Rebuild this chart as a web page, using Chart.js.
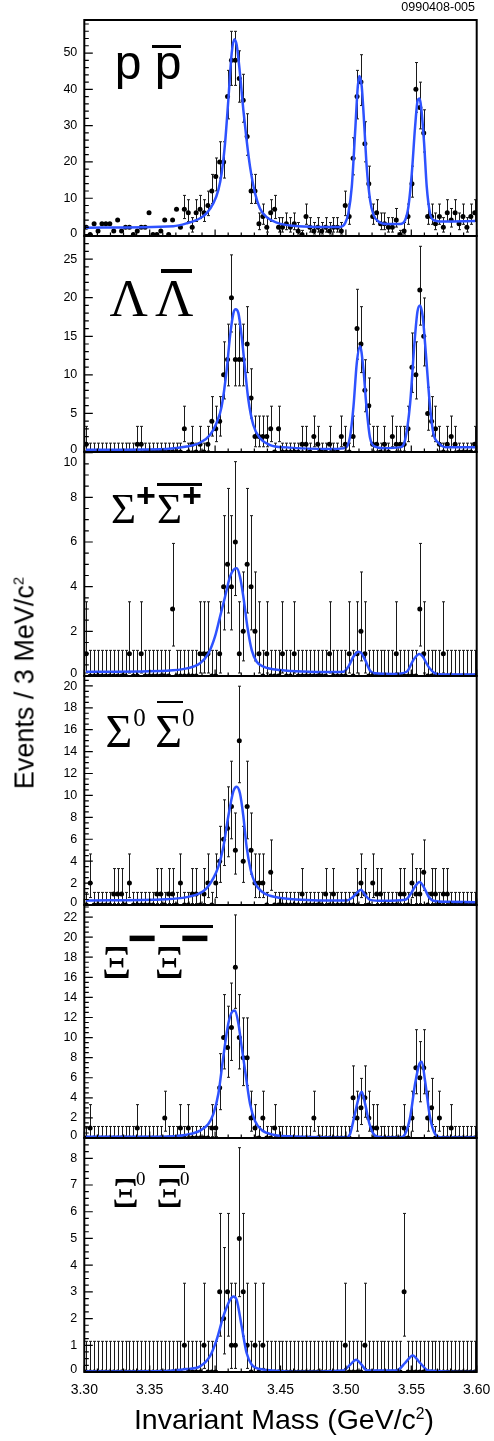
<!DOCTYPE html>
<html>
<head>
<meta charset="utf-8">
<script src="https://cdn.jsdelivr.net/npm/chart.js@4.4.1/dist/chart.umd.min.js"></script>
<style>
html,body{margin:0;padding:0;background:#fff;}
#page{position:relative;width:494px;height:1441px;overflow:hidden;color:#000;}
#page canvas{position:absolute;left:0;z-index:1;}
.lbl{position:absolute;white-space:nowrap;line-height:1;z-index:2;}
.sans{font-family:"Liberation Sans",Arial,Helvetica,sans-serif;}
.serif{font-family:"Liberation Serif","Times New Roman",Times,serif;}
.up{position:relative;line-height:0;}
.sup{font-size:0.55em;position:relative;top:-0.65em;line-height:0;}
.bar{position:absolute;background:#000;z-index:2;}
</style>
</head>
<body>
<div id="page">
  <div class="lbl sans" style="right:19px;top:1px;font-size:12.5px;">0990408-005</div>
  <div class="lbl sans" style="left:25px;top:683px;font-size:27px;transform:translate(-50%,-50%) rotate(-90deg);">Events / 3 MeV/c<span class="sup">2</span></div>
  <div class="lbl sans" style="left:284px;top:1405px;font-size:28.5px;transform:translateX(-50%);">Invariant Mass (GeV/c<span class="sup">2</span>)</div>

  <div class="lbl sans" style="left:114.8px;top:39.4px;font-size:48px;">p p</div>
  <div class="bar" style="left:152px;top:45px;width:29px;height:3px;"></div>

  <div class="lbl serif" style="left:109.5px;top:272.3px;font-size:53px;word-spacing:-2px;">Λ Λ</div>
  <div class="bar" style="left:161px;top:269px;width:31px;height:4px;"></div>

  <div class="lbl serif" style="left:111px;top:487.3px;font-size:43px;">Σ<span class="sans up" style="font-weight:bold;font-size:34px;top:-16.4px;">+</span><span style="margin-left:1px;">Σ</span><span class="sans up" style="font-weight:bold;font-size:34px;top:-16.4px;">+</span></div>
  <div class="bar" style="left:156.7px;top:483.3px;width:45px;height:2.5px;"></div>

  <div class="lbl serif" style="left:105.5px;top:708.8px;font-size:46px;word-spacing:-2px;">Σ<span class="up" style="font-size:25px;top:-20.6px;margin-left:1px;">0</span> Σ<span class="up" style="font-size:25px;top:-20.6px;">0</span></div>
  <div class="bar" style="left:156.7px;top:700.7px;width:26px;height:2.5px;"></div>

  <div class="lbl serif" style="left:101.8px;top:939.5px;font-size:46px;">Ξ<span class="sans up" style="font-weight:bold;font-size:50px;top:-23px;margin-left:-4px;">−</span><span style="margin-left:-2px;">Ξ</span><span class="sans up" style="font-weight:bold;font-size:50px;top:-23px;margin-left:-4px;">−</span></div>
  <div class="bar" style="left:160px;top:925px;width:52.7px;height:2.7px;"></div>

  <div class="lbl serif" style="left:112px;top:1171.8px;font-size:42px;">Ξ<span class="up" style="font-size:19px;top:-22px;margin-left:-3px;">0</span> Ξ<span class="up" style="font-size:19px;top:-22px;margin-left:-3px;">0</span></div>
  <div class="bar" style="left:159px;top:1165px;width:26px;height:2.5px;"></div>
</div>

<script>
// ---------------- DATA ----------------
// Bin centres (GeV/c^2), 3 MeV bins from 3.30 to 3.60
const binCenters = [
3.3015,3.3045,3.3075,3.3105,3.3135,3.3165,3.3195,3.3225,3.3255,3.3285,
3.3315,3.3345,3.3375,3.3405,3.3435,3.3465,3.3495,3.3525,3.3555,3.3585,
3.3615,3.3645,3.3675,3.3705,3.3735,3.3765,3.3795,3.3825,3.3855,3.3885,
3.3915,3.3945,3.3975,3.4005,3.4035,3.4065,3.4095,3.4125,3.4155,3.4185,
3.4215,3.4245,3.4275,3.4305,3.4335,3.4365,3.4395,3.4425,3.4455,3.4485,
3.4515,3.4545,3.4575,3.4605,3.4635,3.4665,3.4695,3.4725,3.4755,3.4785,
3.4815,3.4845,3.4875,3.4905,3.4935,3.4965,3.4995,3.5025,3.5055,3.5085,
3.5115,3.5145,3.5175,3.5205,3.5235,3.5265,3.5295,3.5325,3.5355,3.5385,
3.5415,3.5445,3.5475,3.5505,3.5535,3.5565,3.5595,3.5625,3.5655,3.5685,
3.5715,3.5745,3.5775,3.5805,3.5835,3.5865,3.5895,3.5925,3.5955,3.5985];

// Events per bin, p pbar
const ppCounts = [
2,0,3,1,3,3,3,1,4,1, 2,2,0,1,2,2,6,0,0,1, 4,0,4,7,2,7,6,2,6,7,
6,8,12,16,20,20,38,48,48,43, 37,27,12,12,3,5,2,6,7,2, 2,3,2,3,1,0,5,2,1,2,
1,2,1,2,2,1,8,5,21,38, 42,25,14,5,6,3,3,2,2,4, 0,1,5,14,40,35,28,5,5,3,
5,2,6,4,6,3,5,2,5,6];
// Lambda Lambdabar
const llCounts = [
1,0,0,0,0,0,0,0,0,0, 0,0,0,1,1,0,0,0,0,0, 0,0,0,0,0,3,0,1,0,1,
0,1,4,3,4,10,12,20,12,12, 12,14,7,2,2,2,2,3,0,3, 0,0,0,0,0,1,1,0,2,1,
0,0,1,0,0,2,1,0,2,16, 14,8,6,1,1,0,1,0,2,1, 1,1,3,11,10,21,15,5,4,3,
1,0,1,2,1,0,0,0,0,1];
// Sigma+ Sigma+bar
const spCounts = [
1,0,0,0,0,0,0,0,0,0, 0,1,0,0,1,0,0,0,0,0, 0,0,3,0,0,0,0,0,0,1,
1,1,0,0,1,4,5,4,6,1, 2,5,4,2,1,0,1,0,0,0, 1,0,0,1,0,0,0,0,0,0,
0,0,1,0,0,0,0,1,0,1, 2,1,0,0,0,0,0,0,0,1, 0,0,0,0,0,3,1,0,0,0,
0,1,0,0,0,0,0,0,0,0];
// Sigma0 Sigma0bar
const s0Counts = [
0,2,0,0,0,0,0,1,1,1, 0,2,0,0,0,0,0,0,1,1, 0,1,1,0,2,0,0,1,1,0,
1,2,0,2,4,6,7,9,5,15, 4,9,5,2,2,2,0,3,0,0, 0,0,0,0,0,1,0,0,0,0,
0,1,0,1,0,0,0,0,0,1, 2,1,0,2,1,1,0,0,0,0, 1,1,0,2,1,1,3,0,1,1,
0,1,1,0,0,0,0,0,0,0];
// Xi- Xi-bar
const xmCounts = [
0,1,0,0,0,0,0,0,0,0, 0,0,0,1,0,0,0,0,0,0, 2,0,0,0,1,0,1,0,0,0,
0,0,1,1,5,10,9,11,17,10, 8,8,2,1,0,2,0,0,1,0, 0,0,0,0,0,0,0,0,2,0,
0,0,0,0,0,0,0,0,4,2, 3,4,2,1,1,0,0,0,0,0, 0,1,0,2,7,6,7,2,3,0,
2,0,0,1,0,0,0,0,0,0];
// Xi0 Xi0bar
const x0Counts = [
0,0,0,0,0,0,0,0,0,0, 0,0,0,0,0,0,0,0,0,0, 0,0,0,0,0,1,0,0,0,0,
1,0,0,0,3,2,3,1,1,5, 3,1,0,1,0,1,0,0,0,0, 0,0,0,0,0,0,0,0,0,0,
0,0,0,0,0,0,1,0,0,0, 0,1,0,0,0,0,0,0,0,0, 0,3,0,0,0,0,0,0,0,0,
0,0,0,0,0,0,0,0,0,0];

// Fit curves
const ppCurveX = [3.3013,3.3681,3.3783,3.3885,3.3936,3.3987,3.4025,3.4050,3.4076,3.4101,3.4127,3.4147,3.4165,3.4190,3.4216,3.4241,3.4267,3.4305,3.4343,3.4394,3.4471,3.4598,3.4777,3.4955,3.4994,3.5019,3.5045,3.5070,3.5091,3.5103,3.5121,3.5141,3.5159,3.5185,3.5211,3.5249,3.5312,3.5414,3.5453,3.5478,3.5504,3.5529,3.5549,3.5562,3.5580,3.5598,3.5618,3.5643,3.5669,3.5746,3.5988];
const ppCurveY = [1.9,2.3,3.1,4.5,5.9,8.6,12.3,16.9,25.1,37,50,53.8,52.2,44.4,34.3,26,18.7,11.4,7.2,4.8,3.3,2.4,2.1,2.1,3.1,5.9,13.2,27.9,40.8,43.7,40.8,29.7,18.7,9.5,5.4,3.6,2.9,2.9,4,7.7,16.9,29.7,37,37.5,33.4,25.1,13.2,5.9,4,3.6,3.7];

const llCurveX = [3.3013,3.3630,3.3783,3.3885,3.3961,3.4012,3.4050,3.4089,3.4114,3.4140,3.4157,3.4178,3.4203,3.4229,3.4254,3.4292,3.4343,3.4420,3.4547,3.4904,3.4994,3.5032,3.5058,3.5083,3.5108,3.5134,3.5159,3.5185,3.5223,3.5287,3.5414,3.5453,3.5491,3.5524,3.5547,3.5567,3.5587,3.5613,3.5643,3.5669,3.5707,3.5771,3.5988];
const llCurveY = [0.3,0.4,0.7,1.2,2.2,3.8,5.9,10.7,15,18,18.5,18,15,10.7,6.8,3.5,1.8,0.9,0.6,0.4,0.5,2,5.9,11.5,13.7,10.7,5.5,1.8,0.7,0.5,0.6,1.6,6.3,14.1,18.2,19,17.6,12.4,5.9,2.4,1.2,0.6,0.6];

const spCurveX = [3.3013,3.3630,3.3783,3.3885,3.3948,3.3999,3.4038,3.4076,3.4114,3.4140,3.4165,3.4190,3.4216,3.4247,3.4280,3.4318,3.4369,3.4496,3.4904,3.4981,3.5019,3.5058,3.5096,3.5116,3.5147,3.5185,3.5223,3.5363,3.5465,3.5516,3.5562,3.5587,3.5631,3.5682,3.5746,3.5988];
const spCurveY = [0.19,0.24,0.34,0.57,1.0,1.76,2.66,3.55,4.45,4.75,4.82,4.45,3.55,2.2,1.16,0.64,0.42,0.27,0.18,0.19,0.42,0.87,1.09,1.04,0.72,0.24,0.12,0.09,0.19,0.72,0.99,0.87,0.42,0.12,0.07,0.07];

const s0CurveX = [3.3013,3.3630,3.3783,3.3885,3.3936,3.3987,3.4025,3.4063,3.4101,3.4140,3.4165,3.4190,3.4216,3.4241,3.4272,3.4305,3.4356,3.4420,3.4547,3.4904,3.5006,3.5045,3.5083,3.5113,3.5147,3.5185,3.5287,3.5453,3.5491,3.5529,3.5562,3.5593,3.5631,3.5669,3.5771,3.5988];
const s0CurveY = [0.41,0.53,0.72,1.08,1.54,2.45,3.5,5.3,8.1,10.4,10.8,10.2,8.1,5.3,3.2,2.0,1.23,0.84,0.57,0.41,0.41,0.63,1.08,1.39,0.93,0.47,0.38,0.47,0.93,1.69,2.09,1.69,0.78,0.38,0.29,0.26];

const xmCurveX = [3.3013,3.3579,3.3783,3.3885,3.3948,3.3987,3.4025,3.4063,3.4101,3.4132,3.4152,3.4178,3.4203,3.4236,3.4267,3.4305,3.4356,3.4445,3.4649,3.5006,3.5032,3.5063,3.5096,3.5121,3.5147,3.5180,3.5223,3.5287,3.5414,3.5453,3.5491,3.5529,3.5562,3.5580,3.5605,3.5643,3.5682,3.5733,3.5988];
const xmCurveY = [0.13,0.13,0.33,0.73,1.4,2.4,4.4,8.1,11.4,12.6,12.7,11.4,9.1,6.1,3.4,1.7,0.8,0.33,0.13,0.06,0.4,2.06,3.9,4.6,3.4,1.4,0.23,0.06,0.06,0.4,2.06,5.4,7.4,7.6,5.7,2.06,0.4,0.06,0.06];

const x0CurveX = [3.3013,3.3630,3.3783,3.3885,3.3961,3.4012,3.4063,3.4114,3.4140,3.4165,3.4203,3.4241,3.4280,3.4343,3.4496,3.4598,3.4981,3.5032,3.5078,3.5121,3.5159,3.5389,3.5453,3.5511,3.5567,3.5631,3.5988];
const x0CurveY = [0.02,0.04,0.11,0.21,0.59,1.21,2.08,2.7,2.83,2.7,1.71,0.71,0.27,0.11,0.04,0.01,0.06,0.27,0.46,0.27,0.06,0.06,0.34,0.62,0.34,0.06,0];

// Tick labels
const xTickValues = [3.30,3.35,3.40,3.45,3.50,3.55,3.60];
const xTickLabels = ['3.30','3.35','3.40','3.45','3.50','3.55','3.60'];
const ppYTicks = [0,10,20,30,40,50];
const llYTicks = [0,5,10,15,20,25];
const spYTicks = [0,2,4,6,8,10];
const s0YTicks = [0,2,4,6,8,10,12,14,16,18,20];
const xmYTicks = [0,2,4,6,8,10,12,14,16,18,20,22];
const x0YTicks = [0,1,2,3,4,5,6,7,8];

// ---------------- LAYOUT / STYLE ----------------
const PLOT_LEFT = 84.3, PLOT_RIGHT = 476.7, PAD = 12, X_AXIS_H = 30;
const FIT_COLOR = '#2e52ff';
const SANS = '"Liberation Sans", Arial, Helvetica, sans-serif';
const panels = [
  {top:20,   bottom:236,  yMin:-0.4, yMax:59.1,  minor:2,    counts:ppCounts, cx:ppCurveX, cy:ppCurveY, yTicks:ppYTicks, errFrom:25},
  {top:236,  bottom:452,  yMin:0,    yMax:28.0,  minor:1,    counts:llCounts, cx:llCurveX, cy:llCurveY, yTicks:llYTicks, errFrom:0},
  {top:452,  bottom:676,  yMin:0,    yMax:10.03, minor:0.5,  counts:spCounts, cx:spCurveX, cy:spCurveY, yTicks:spYTicks, errFrom:0},
  {top:676,  bottom:905,  yMin:0,    yMax:20.9,  minor:0.5,  counts:s0Counts, cx:s0CurveX, cy:s0CurveY, yTicks:s0YTicks, errFrom:0},
  {top:905,  bottom:1138, yMin:0,    yMax:23.2,  minor:0.5,  counts:xmCounts, cx:xmCurveX, cy:xmCurveY, yTicks:xmYTicks, errFrom:0},
  {top:1138, bottom:1372, yMin:0,    yMax:8.76,  minor:0.25, counts:x0Counts, cx:x0CurveX, cy:x0CurveY, yTicks:x0YTicks, errFrom:0}
];

const page = document.getElementById('page');

function buildPanel(p, isBottom) {
  const h = (p.bottom - p.top) + PAD + (isBottom ? X_AXIS_H : PAD);
  const cv = document.createElement('canvas');
  cv.width = 494; cv.height = h;
  cv.style.width = '494px'; cv.style.height = h + 'px';
  cv.style.top = (p.top - PAD) + 'px';
  page.appendChild(cv);

  const points = binCenters.map((x, i) => ({x: x, y: p.counts[i]}));
  const curve = p.cx.map((x, i) => ({x: x, y: p.cy[i]}));

  const errBars = {
    id: 'errBars',
    beforeDatasetsDraw(chart) {
      const ctx = chart.ctx, xs = chart.scales.x, ys = chart.scales.y, a = chart.chartArea;
      ctx.save();
      ctx.beginPath(); ctx.rect(a.left, a.top, a.right - a.left, a.bottom - a.top); ctx.clip();
      ctx.strokeStyle = '#1a1a1a'; ctx.lineWidth = 1;
      ctx.beginPath();
      binCenters.forEach((x, i) => {
        if (i < p.errFrom) return;
        const n = p.counts[i];
        const lo = n === 0 ? 0 : n - Math.sqrt(n - 0.25);
        const hi = n === 0 ? 1.148 : n + Math.sqrt(n + 0.75) + 1;
        const px = Math.round(xs.getPixelForValue(x)) + 0.5;
        const y1 = ys.getPixelForValue(lo), y2 = ys.getPixelForValue(hi);
        ctx.moveTo(px, y1); ctx.lineTo(px, y2);
        ctx.moveTo(px - 1.5, y2); ctx.lineTo(px + 1.5, y2);
        if (n > 0) { ctx.moveTo(px - 1.5, y1); ctx.lineTo(px + 1.5, y1); }
      });
      ctx.stroke();
      ctx.restore();
    }
  };

  const frame = {
    id: 'frame',
    afterDatasetsDraw(chart) {
      const ctx = chart.ctx, xs = chart.scales.x, ys = chart.scales.y, a = chart.chartArea;
      ctx.save();
      ctx.strokeStyle = '#000';
      ctx.lineWidth = 1.2;
      ctx.beginPath();
      for (let k = 0; ; k++) {
        const v = k * p.minor;
        if (v > p.yMax) break;
        const y = ys.getPixelForValue(v);
        ctx.moveTo(a.left, y); ctx.lineTo(a.left + 4.5, y);
      }
      p.yTicks.forEach(v => {
        const y = ys.getPixelForValue(v);
        if (y < a.top - 0.5) return;
        ctx.moveTo(a.left, y); ctx.lineTo(a.left + 8.5, y);
      });
      for (let k = 0; k <= 30; k++) {
        const x = xs.getPixelForValue(3.30 + k * 0.01);
        ctx.moveTo(x, a.bottom); ctx.lineTo(x, a.bottom - 3.5);
      }
      xTickValues.forEach(v => {
        const x = xs.getPixelForValue(v);
        ctx.moveTo(x, a.bottom); ctx.lineTo(x, a.bottom - 6.5);
      });
      ctx.stroke();
      ctx.lineWidth = 2;
      ctx.strokeRect(a.left, a.top, a.right - a.left, a.bottom - a.top);
      ctx.fillStyle = '#000';
      ctx.font = '12.5px ' + SANS;
      ctx.textAlign = 'right';
      ctx.textBaseline = 'middle';
      p.yTicks.forEach(v => {
        let y = ys.getPixelForValue(v);
        if (y < a.top - 0.5) return;
        y = Math.min(y, a.bottom - 2.5);
        y = Math.max(y, a.top + 11);
        ctx.fillText(String(v), a.left - 7, y);
      });
      ctx.restore();
    }
  };

  new Chart(cv, {
    type: 'scatter',
    data: {
      datasets: [
        {type: 'line', data: curve, borderColor: FIT_COLOR, borderWidth: 2.5, pointRadius: 0,
         cubicInterpolationMode: 'monotone', fill: false},
        {type: 'scatter', data: points, pointRadius: 2.5, pointHoverRadius: 2.5,
         backgroundColor: '#000', borderColor: '#000', borderWidth: 0}
      ]
    },
    options: {
      responsive: false, animation: false, devicePixelRatio: 1, events: [],
      layout: {padding: {left: PLOT_LEFT, right: 494 - PLOT_RIGHT, top: PAD, bottom: isBottom ? 0 : PAD}},
      plugins: {legend: {display: false}, tooltip: {enabled: false}},
      scales: {
        x: {
          type: 'linear', min: 3.30, max: 3.60, display: isBottom,
          grid: {display: false, drawTicks: false}, border: {display: false},
          afterBuildTicks: ax => { ax.ticks = xTickValues.map(v => ({value: v})); },
          afterFit: ax => {
            ax.height = isBottom ? X_AXIS_H : 0;
            ax.paddingLeft = 0; ax.paddingRight = 0;
          },
          ticks: {autoSkip: false, maxRotation: 0, minRotation: 0, padding: 10, color: '#000',
                  font: {family: SANS, size: 14},
                  callback: (v, i) => xTickLabels[i]}
        },
        y: {type: 'linear', min: p.yMin, max: p.yMax, display: false,
            afterFit: ax => { ax.width = 0; }}
      }
    },
    plugins: [errBars, frame]
  });
}

panels.forEach((p, i) => buildPanel(p, i === panels.length - 1));
</script>
</body>
</html>
